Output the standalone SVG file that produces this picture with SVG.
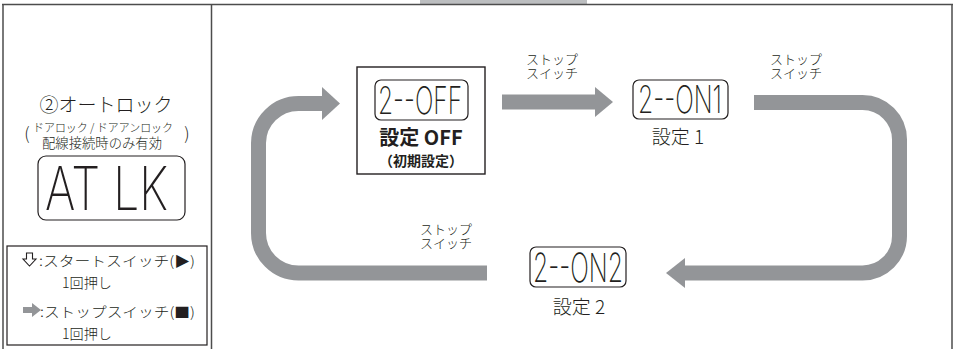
<svg xmlns="http://www.w3.org/2000/svg" width="955" height="349" viewBox="0 0 955 349">
<style>
.frame{stroke:#4d4d4d;stroke-width:1.5;fill:none}
.jp{font-family:"Noto Sans CJK JP","Noto Sans",sans-serif;fill:#231f20}
.lt{font-weight:300}
.lcdbox{fill:#fff;stroke:#231f20;stroke-width:1.2}
.seg{font-family:Inter,"DejaVu Sans",sans-serif;font-weight:200;fill:#231f20}
.band{fill:none;stroke:#939598;stroke-width:15}
.head{fill:#939598}
.lbl{font-size:13px;font-weight:300}
</style>
<rect x="420" y="0" width="167" height="4" fill="#bcbec0"/>
<g id="frame">
<line class="frame" x1="2" y1="4.5" x2="953" y2="4.5"/>
<line class="frame" x1="3" y1="4.5" x2="3" y2="349"/>
<line class="frame" x1="211.5" y1="4.5" x2="211.5" y2="349"/>
<line class="frame" x1="952" y1="4.5" x2="952" y2="349"/>
</g>
<g id="title">
<text class="jp lt" x="106" y="112" font-size="19.5" text-anchor="middle" textLength="133" lengthAdjust="spacingAndGlyphs">②オートロック</text>
<text class="jp lt" x="27" y="140" font-size="17" text-anchor="middle">(</text>
<text class="jp lt" x="103" y="132" font-size="11.5" text-anchor="middle" textLength="140" lengthAdjust="spacingAndGlyphs">ドアロック / ドアアンロック</text>
<text class="jp lt" x="187" y="140" font-size="17" text-anchor="middle">)</text>
<text class="jp lt" x="102" y="147.5" font-size="13.5" text-anchor="middle" textLength="120" lengthAdjust="spacingAndGlyphs">配線接続時のみ有効</text>
</g>
<g id="lcd-atlk">
<rect class="lcdbox" x="38" y="156" width="147" height="64" rx="8"/>
<text class="seg" x="45" y="210" font-size="60" textLength="123" lengthAdjust="spacingAndGlyphs">AT LK</text>
</g>
<g id="legend">
<rect x="7" y="246" width="200" height="99" fill="none" stroke="#231f20" stroke-width="1.2"/>
<polygon points="26.5,253 32.5,253 32.5,259 36,259 29.5,266 23,259 26.5,259" fill="#fff" stroke="#231f20" stroke-width="1.1"/>
<text class="jp lt" x="39" y="266" font-size="14" textLength="156" lengthAdjust="spacingAndGlyphs">:スタートスイッチ(▶)</text>
<text class="jp lt" x="62" y="288" font-size="14" textLength="50" lengthAdjust="spacingAndGlyphs">1回押し</text>
<rect x="23" y="307" width="10" height="6" fill="#939598"/>
<polygon points="32,303 41,310 32,317" fill="#939598"/>
<text class="jp lt" x="40" y="317" font-size="14" textLength="155" lengthAdjust="spacingAndGlyphs">:ストップスイッチ(■)</text>
<text class="jp lt" x="62" y="339" font-size="14" textLength="50" lengthAdjust="spacingAndGlyphs">1回押し</text>
</g>
<g id="connectors">
<path class="band" d="M487,273 H298.5 A40,40 0 0 1 258.5,233 V143 A40,40 0 0 1 298.5,103.5 H323"/>
<polygon class="head" points="322,87 340,103.5 322,120"/>
<path class="band" d="M502,102 H596" stroke-width="14"/>
<polygon class="head" points="595,87 613,102 595,117"/>
<path class="band" d="M754,102.5 H862.5 A37,37 0 0 1 899.5,139.5 V236 A37,37 0 0 1 862.5,273 H684"/>
<polygon class="head" points="685,258 666,273 685,288"/>
</g>
<g id="labels">
<text class="jp lbl"><tspan x="526" y="64">ストップ</tspan><tspan x="526" y="78">スイッチ</tspan></text>
<text class="jp lbl"><tspan x="770" y="64">ストップ</tspan><tspan x="770" y="78">スイッチ</tspan></text>
<text class="jp lbl"><tspan x="420" y="234">ストップ</tspan><tspan x="420" y="248">スイッチ</tspan></text>
</g>
<g id="node-off">
<rect x="357" y="67" width="128" height="107" fill="#fff" stroke="#231f20" stroke-width="1.4"/>
<rect class="lcdbox" x="375" y="80" width="93" height="40" rx="6"/>
<text class="seg" x="378" y="113.5" font-size="38" textLength="84" lengthAdjust="spacingAndGlyphs">2--OFF</text>
<text class="jp" x="421" y="145" font-size="20" font-weight="bold" text-anchor="middle">設定 OFF</text>
<text class="jp" x="421" y="166" font-size="14" font-weight="bold" text-anchor="middle">（初期設定）</text>
</g>
<g id="node-on1">
<rect class="lcdbox" x="633" y="80" width="95" height="39" rx="6"/>
<text class="seg" x="638" y="113" font-size="38" textLength="84" lengthAdjust="spacingAndGlyphs">2--ON1</text>
<text class="jp lt" x="678" y="144" font-size="19" text-anchor="middle">設定 1</text>
</g>
<g id="node-on2">
<rect class="lcdbox" x="530" y="247" width="96" height="40" rx="6"/>
<text class="seg" x="533" y="282" font-size="40" textLength="90" lengthAdjust="spacingAndGlyphs">2--ON2</text>
<text class="jp lt" x="579" y="314" font-size="19" text-anchor="middle">設定 2</text>
</g>
</svg>
